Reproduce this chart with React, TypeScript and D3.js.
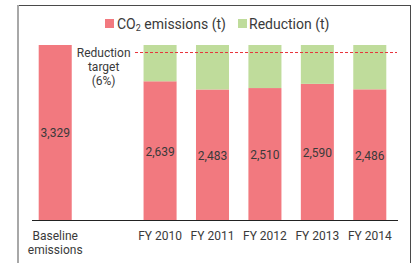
import { useEffect, useRef } from 'react';
import * as d3 from 'd3';

const categories = ['Baseline emissions', '', 'FY 2010', 'FY 2011', 'FY 2012', 'FY 2013', 'FY 2014'];
const baseline = 3329;
const years = ['FY 2010', 'FY 2011', 'FY 2012', 'FY 2013', 'FY 2014'];
const emissions = [2639, 2483, 2510, 2590, 2486];
const targetValue = 3186;
const targetLabel = ['Reduction', 'target', '(6%)'];

const RED = '#f2797f';
const GREEN = '#bfdc9b';
const TEXT = '#3a3a3a';
const FONT = 'Roboto, "Open Sans", sans-serif';

export default function App() {
  const svgRef = useRef<SVGSVGElement>(null);

  useEffect(() => {
    if (!svgRef.current) return;
    const svg = d3.select(svgRef.current);
    svg.selectAll('*').remove();

    const x = d3.scaleBand<string>()
      .domain(categories)
      .range([29, 396])
      .paddingInner(0.37)
      .paddingOuter(0.185);

    const y = d3.scaleLinear()
      .domain([0, baseline])
      .range([220, 45]);

    // frame
    svg.append('line').attr('x1', 17.5).attr('x2', 411).attr('y1', 5.5).attr('y2', 5.5)
      .attr('stroke', '#4a4a4a').attr('stroke-width', 1);
    svg.append('line').attr('x1', 18).attr('x2', 18).attr('y1', 5).attr('y2', 263)
      .attr('stroke', '#a8a8a8').attr('stroke-width', 2);
    svg.append('line').attr('x1', 410.5).attr('x2', 410.5).attr('y1', 5).attr('y2', 263)
      .attr('stroke', '#4a4a4a').attr('stroke-width', 1);

    // legend
    const legend = svg.append('g').attr('font-family', FONT).attr('font-size', 14).attr('fill', TEXT);
    legend.append('rect').attr('x', 105).attr('y', 19).attr('width', 9).attr('height', 9).attr('fill', RED);
    const co2 = legend.append('text').attr('x', 117).attr('y', 28.5);
    co2.append('tspan').text('CO');
    co2.append('tspan').attr('font-size', 9).attr('dy', 2).text('2');
    co2.append('tspan').attr('dy', -2).text(' emissions (t)');
    legend.append('rect').attr('x', 238).attr('y', 19).attr('width', 9).attr('height', 9).attr('fill', GREEN);
    legend.append('text').attr('x', 249).attr('y', 28.5).text('Reduction (t)');

    // baseline bar
    const bx = x('Baseline emissions')!;
    svg.append('rect')
      .attr('x', bx).attr('width', x.bandwidth())
      .attr('y', y(baseline)).attr('height', y(0) - y(baseline))
      .attr('fill', RED);

    // stacked bars
    const rows = years.map((yr, i) => ({ year: yr, emissions: emissions[i], reduction: baseline - emissions[i] }));
    const stack = d3.stack<{ year: string; emissions: number; reduction: number }>()
      .keys(['emissions', 'reduction'])(rows);
    const colors = [RED, GREEN];
    stack.forEach((layer, li) => {
      svg.append('g').selectAll('rect')
        .data(layer)
        .join('rect')
        .attr('x', d => x(d.data.year)!)
        .attr('width', x.bandwidth())
        .attr('y', d => y(d[1]))
        .attr('height', d => y(d[0]) - y(d[1]))
        .attr('fill', colors[li]);
    });

    // value labels
    const labels = svg.append('g').attr('font-family', FONT).attr('font-size', 12)
      .attr('fill', TEXT).attr('text-anchor', 'middle');
    labels.append('text')
      .attr('x', bx + x.bandwidth() / 2)
      .attr('y', (y(0) + y(baseline)) / 2 + 4)
      .text(d3.format(',')(baseline));
    labels.selectAll('text.v')
      .data(rows)
      .join('text')
      .attr('class', 'v')
      .attr('x', d => x(d.year)! + x.bandwidth() / 2)
      .attr('y', d => (y(0) + y(d.emissions)) / 2 + 5)
      .text(d => d3.format(',')(d.emissions));

    // target line
    svg.append('line')
      .attr('x1', 135).attr('x2', 397)
      .attr('y1', y(targetValue)).attr('y2', y(targetValue))
      .attr('stroke', '#e8323a').attr('stroke-width', 1)
      .attr('stroke-dasharray', '3,2');
    const tl = svg.append('text').attr('font-family', FONT).attr('font-size', 12)
      .attr('fill', TEXT).attr('text-anchor', 'middle');
    targetLabel.forEach((t, i) => {
      tl.append('tspan').attr('x', x('')! + x.bandwidth() / 2 - 4).attr('y', 57 + i * 14).text(t);
    });

    // axis
    svg.append('line').attr('x1', 32).attr('x2', 398).attr('y1', 220.5).attr('y2', 220.5)
      .attr('stroke', '#222').attr('stroke-width', 1);
    const axis = svg.append('g').attr('font-family', FONT).attr('font-size', 12)
      .attr('fill', TEXT).attr('text-anchor', 'middle');
    categories.filter(c => c !== '').forEach(c => {
      const t = axis.append('text');
      const parts = c === 'Baseline emissions' ? ['Baseline', 'emissions'] : [c];
      parts.forEach((p, i) => {
        t.append('tspan').attr('x', x(c)! + x.bandwidth() / 2).attr('y', 240 + i * 14).text(p);
      });
    });
  }, []);

  return (
    <svg
      ref={svgRef}
      width={416}
      height={263}
      style={{ position: 'absolute', left: 0, top: 0, background: '#fff' }}
    />
  );
}
